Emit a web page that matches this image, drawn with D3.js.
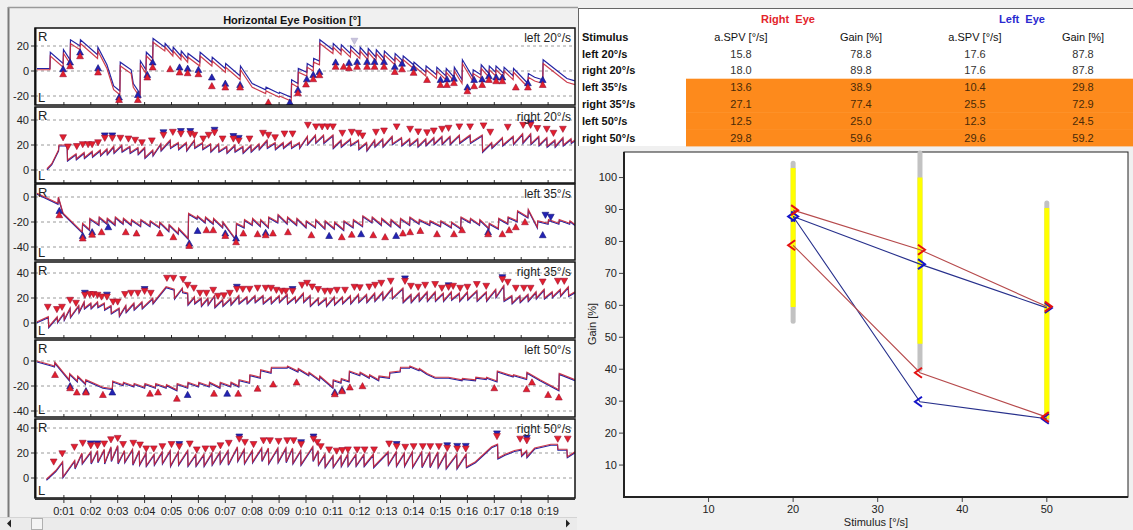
<!DOCTYPE html>
<html>
<head>
<meta charset="utf-8">
<script src="https://cdn.jsdelivr.net/npm/d3@7"></script>
<style>
body { margin: 0; background: #f0f0f0; overflow: hidden; }
svg text { font-family: "Liberation Sans", Arial, sans-serif; }
</style>
</head>
<body>
<script>
// ---------- data: OKN recording ----------
const panelNames = ['left 20°/s', 'right 20°/s', 'left 35°/s', 'right 35°/s', 'left 50°/s', 'right 50°/s']
const panelTicks = [[-20, 0, 20], [0, 20, 40], [-40, -20, 0], [0, 20, 40], [-40, -20, 0], [0, 20, 40]]
const panelMarkDir = ['up', 'down', 'up', 'down', 'up', 'down']
const timeTicks = [1, 2, 3, 4, 5, 6, 7, 8, 9, 10, 11, 12, 13, 14, 15, 16, 17, 18, 19]

// beats: [t, before quick phase, after quick phase] (panel 1 also has left eye columns)
const p1Trace = [[0,1,1,2,2],[0.48,1,12,2,15],[0.97,3,14,6,17],[1.23,6,22,9,25],[1.6,17,22,20,25],[2.25,10,16,13,19],
  [2.6,2,2,5,5],[2.85,-15,-15,-12,-12],[3.08,-19,4,-16,7],[3.5,-2,-2,1,1],[3.58,-13,-13,-10,-10],[3.83,-21,5,-18,8],
  [4.05,-2,12,1,15],[4.3,7,23,10,26],[4.75,16,19,19,22],[5.05,12,16,15,19],[5.35,9,13,12,16],[5.6,7,11,10,14],
  [6.05,4,12,7,15],[6.5,4,8,7,11],[7.0,-1,3,2,6],[7.55,-7,1,-4,4],[8.0,-13,-13,-10,-10],[8.5,-18,-16,-15,-13],
  [9.0,-21,-20,-18,-17],[9.45,-24,-10,-21,-7],[9.7,-13,-1,-10,2],[10.03,-4,3,-1,6],[10.27,0,7,3,10],[10.5,5,22,8,25],
  [11.0,14,19,17,22],[11.3,13,18,16,21],[11.65,11,17,14,20],[12.0,10,16,13,19],[12.3,9,15,12,18],[12.6,8,14,11,17],
  [12.9,7,13,10,16],[13.3,5,11,8,14],[13.6,5,9,8,12],[14.0,2,4,5,7],[14.45,-4,1,-1,4],[14.85,-6,0,-3,3],
  [15.2,-7,-1,-4,2],[15.5,-8,0,-5,3],[15.8,-10,6,-7,9],[16.2,-8,-2,-5,1],[16.5,-6,2,-3,5],[16.8,-5,1,-2,4],
  [17.05,-4,1,-1,4],[17.35,-5,0,-2,3],[17.7,-7,-1,-4,2],[18.25,-13,-5,-10,-2],[18.5,-8,-8,-5,-5],[18.8,-10,6,-7,9],
  [19.7,-9,-9,-6,-6],[20,-11,-11,-8,-8]]
const p2Trace = [[0.37,1,1],[0.55,5,5],[0.8,16,20],[1.12,20,8],[1.45,13,9],[1.75,14,10],[2.05,15,11],[2.35,16,12],
  [2.6,17,13],[2.85,19,14],[3.15,20,15],[3.45,19,14],[3.75,18,13],[4.0,18,10],[4.3,16,12],[4.6,21,16],[4.95,24,18],
  [5.25,22,17],[5.55,22,16],[5.85,24,18],[6.15,22,17],[6.45,21,15],[6.75,21,15],[7.05,19,14],[7.35,20,15],[7.65,19,14],
  [7.95,20,15],[8.25,21,17],[8.55,24,18],[8.85,22,17],[9.15,22,18],[9.45,23,18],[9.75,22,18],[10.05,27,21],[10.35,28,22],
  [10.65,28,22],[11.0,28,18],[11.3,24,19],[11.65,25,20],[11.95,24,17],[12.25,22,16],[12.55,24,19],[12.85,25,19],
  [13.2,27,21],[13.55,26,20],[13.85,25,20],[14.15,25,19],[14.45,25,20],[14.75,26,21],[15.05,27,21],[15.35,27,21],
  [15.7,28,22],[16.1,28,22],[16.55,28,15],[16.9,22,18],[17.3,26,20],[17.7,27,21],[18.05,29,22],[18.35,29,21],
  [18.65,27,20],[18.95,26,19],[19.25,24,19],[19.55,26,20],[19.85,25,22],[20,24,24]]
const p3Trace = [[0,3,3],[0.78,-5,0],[0.97,-13,-13],[1.68,-28,-21],[1.95,-26,-17],[2.3,-22,-16],[2.6,-21,-17],
  [2.9,-22,-16],[3.2,-21,-17],[3.5,-22,-18],[3.85,-23,-18],[4.2,-23,-19],[4.55,-24,-20],[4.9,-27,-22],[5.25,-29,-25],
  [5.62,-33,-13],[5.95,-17,-15],[6.25,-20,-16],[6.55,-21,-17],[6.9,-24,-20],[7.4,-34,-21],[7.7,-24,-18],[8.0,-22,-17],
  [8.3,-23,-18],[8.6,-24,-16],[8.95,-20,-14],[9.3,-21,-16],[9.65,-22,-17],[10.0,-24,-19],[10.35,-24,-18],[10.7,-25,-19],
  [11.05,-25,-20],[11.4,-26,-19],[11.75,-24,-18],[12.1,-23,-15],[12.45,-20,-16],[12.8,-22,-17],[13.15,-23,-18],
  [13.5,-24,-17],[13.85,-22,-16],[14.2,-21,-18],[14.6,-22,-19],[15.0,-23,-19],[15.4,-24,-20],[15.75,-25,-16],
  [16.1,-20,-17],[16.45,-22,-18],[16.8,-25,-21],[17.15,-25,-17],[17.5,-21,-16],[17.85,-19,-11],[18.25,-16,-10],
  [18.6,-24,-19],[19.0,-21,-18],[19.4,-21,-18],[19.8,-21,-19],[20,-22,-22]]
const p4Trace = [[0,1,1],[0.42,5,-3],[0.75,5,1],[1.0,8,3],[1.23,12,5],[1.55,14,9],[1.75,17,12],[2.0,16,12],[2.25,17,13],
  [2.5,16,11],[2.75,14,8],[3.05,12,6],[3.3,14,9],[3.6,16,11],[3.9,17,12],[4.3,20,16],[4.8,29,29],[5.1,27,20],[5.4,28,25],
  [5.6,24,15],[5.85,21,16],[6.1,20,14],[6.35,20,15],[6.6,22,13],[6.9,19,14],[7.2,20,15],[7.5,22,16],[7.8,21,16],
  [8.1,22,17],[8.4,22,16],[8.7,21,16],[9.0,22,17],[9.3,23,16],[9.6,21,17],[9.9,24,17],[10.15,22,14],[10.45,20,15],
  [10.75,20,14],[11.05,21,15],[11.35,21,16],[11.65,22,16],[11.95,23,17],[12.25,23,17],[12.55,24,18],[12.85,25,19],
  [13.2,28,20],[13.6,28,17],[13.9,23,17],[14.2,24,18],[14.5,25,18],[14.8,25,18],[15.1,24,18],[15.4,25,19],[15.7,24,18],
  [16.0,25,19],[16.35,26,18],[16.7,25,18],[17.05,27,21],[17.35,30,18],[17.65,22,16],[17.95,22,17],[18.25,23,18],
  [18.55,25,20],[18.85,27,20],[19.15,25,21],[19.45,27,22],[19.75,29,22],[20,25,25]]
const p5Trace = [[0,0,0],[0.5,-3,-3],[0.65,-4,-1],[1.2,-15,-10],[1.5,-16,-12],[1.8,-18,-15],[2.45,-21,-21],[2.8,-22,-16],
  [3.2,-19,-17],[3.6,-20,-18],[4.0,-21,-18],[4.4,-21,-18],[4.8,-21,-19],[5.2,-23,-18],[5.6,-21,-17],[6.0,-20,-17],
  [6.4,-20,-17],[6.8,-21,-17],[7.2,-20,-17],[7.5,-20,-15],[7.9,-17,-11],[8.3,-13,-7],[8.7,-9,-5],[9.3,-5,-4],[9.7,-8,-6],
  [10.1,-11,-9],[10.5,-15,-12],[11.0,-21,-15],[11.3,-17,-14],[11.6,-16,-8],[12.0,-11,-9],[12.35,-13,-11],[12.7,-15,-12],
  [13.1,-13,-9],[13.5,-8,-5],[13.85,-5,-4],[14.2,-7,-6],[14.5,-10,-10],[14.8,-13,-13],[15.3,-13,-13],[15.8,-15,-14],
  [16.3,-15,-13],[16.7,-14,-13],[17.1,-16,-8],[17.7,-12,-11],[18.2,-14,-9],[18.7,-15,-15],[19.4,-23,-10],[20,-15,-15]]
const p6Trace = [[0.35,-1,-1],[0.7,6,6],[0.95,13,1],[1.4,14,8],[1.67,20,12],[2.0,21,12],[2.25,22,13],[2.5,23,12],
  [2.75,25,14],[3.0,26,12],[3.25,22,13],[3.55,23,11],[3.8,22,11],[4.05,20,10],[4.35,19,11],[4.65,21,12],[4.95,22,10],
  [5.25,21,11],[5.6,22,10],[5.9,19,10],[6.2,19,10],[6.5,20,11],[6.8,21,12],[7.1,22,11],[7.45,25,14],[7.7,23,12],
  [8.0,22,13],[8.35,24,14],[8.6,24,12],[8.95,24,13],[9.25,24,13],[9.5,24,12],[9.8,22,11],[10.25,25,14],[10.45,22,11],
  [10.7,19,9],[11.0,18,9],[11.3,18,10],[11.55,19,10],[11.85,19,10],[12.15,19,10],[12.5,19,9],[13.05,21,11],[13.35,21,10],
  [13.65,20,10],[13.95,21,9],[14.3,21,9],[14.6,21,9],[14.9,21,9],[15.2,20,8],[15.6,19,8],[15.95,19,9],[16.3,13,13],
  [16.6,19,19],[16.9,25,25],[17.12,27,16],[17.4,19,19],[17.75,22,22],[18.0,23,18],[18.2,22,17],[18.5,24,24],
  [19.1,27,27],[19.35,27,23],[19.7,23,17],[20,21,21]]

// detected quick phases: [t, position, eye (R right / L left / G rejected), optional direction]
const p1Marks = [[0.97,1.6,'L'],[1.23,7,'L'],[1.6,15,'L'],[2.27,2.4,'L'],[3.05,-21,'L'],[3.75,-19,'L'],[4.1,-3,'L'],[4.3,7,'L'],
  [5.3,3,'L'],[5.6,2,'L'],[6.0,1,'L'],[6.5,-5,'L'],[7.0,-10,'L'],[7.55,-11,'L'],[9.4,-25,'L'],[9.7,-15,'L'],[10.03,-6.5,'L'],
  [10.27,-3,'L'],[10.5,-0.6,'L'],[11.1,7,'L'],[11.6,6.6,'L'],[11.9,7.4,'L'],[12.27,7.4,'L'],[12.55,7.4,'L'],[12.9,7.4,'L'],
  [13.3,3.5,'L'],[13.57,6,'L'],[14.0,2.4,'L'],[15.0,-7,'L'],[15.24,-6.6,'L'],[15.5,-6,'L'],[16.0,-13,'L'],[16.25,-7,'L'],
  [16.55,-6.6,'L'],[16.8,-4,'L'],[17.07,-5,'L'],[17.3,-5,'L'],[18.25,-9.6,'L'],[18.8,-7,'L'],
  [0.97,-2.4,'R'],[1.23,4,'R'],[1.6,12,'R'],[2.27,-1,'R'],[3.05,-23,'R'],[3.75,-23,'R'],[4.1,-5,'R'],[4.3,3,'R'],[4.95,1.6,'R'],
  [5.3,-1,'R'],[5.6,-1.6,'R'],[6.0,-2.4,'R'],[6.5,-12,'R'],[7.0,-13,'R'],[7.55,-13,'R'],[8.6,-25,'R'],[9.7,-17.6,'R'],
  [10.0,-10.6,'R'],[10.27,-6.4,'R'],[10.5,-3.2,'R'],[11.1,3.5,'R'],[11.4,3.5,'R'],[11.6,2.4,'R'],[11.9,3.5,'R'],[12.27,3.5,'R'],
  [12.55,3.5,'R'],[12.9,3.5,'R'],[13.3,-0.6,'R'],[13.57,1.5,'R'],[14.0,-1.3,'R'],[14.5,-7,'R'],[15.0,-11,'R'],[15.24,-11,'R'],
  [15.5,-9.5,'R'],[16.0,-16,'R'],[16.25,-12,'R'],[16.55,-11,'R'],[16.8,-7,'R'],[17.07,-8,'R'],[17.3,-8,'R'],[17.8,-13,'R'],
  [18.25,-13,'R'],[18.8,-11,'R'],[11.8,24,'G','down']]
const p2Marks = [[2.52,27.5,'L'],[2.8,27.5,'L'],[4.7,30,'L'],[5.35,31,'L'],[5.7,31,'L'],[6.6,32,'L'],[7.3,27,'L'],[7.5,25.5,'L'],
  [18.35,37.5,'L'],
  [0.97,26,'R'],[1.15,18.6,'R'],[1.48,19,'R'],[1.7,20.5,'R'],[1.9,20.5,'R'],[2.05,20.5,'R'],[2.27,22,'R'],[2.52,25.6,'R'],
  [2.8,25.6,'R'],[3.1,25.6,'R'],[3.4,25,'R'],[3.65,24,'R'],[3.9,22,'R'],[4.27,23.5,'R'],[4.7,28,'R'],[5.05,30.4,'R'],
  [5.35,29,'R'],[5.7,29,'R'],[5.85,28,'R'],[6.18,25,'R'],[6.38,28,'R'],[6.6,30,'R'],[6.9,25,'R'],[7.3,25,'R'],[7.5,23.5,'R'],
  [7.9,25,'R'],[8.4,29.6,'R'],[8.6,28,'R'],[8.85,26,'R'],[9.2,29,'R'],[9.5,29,'R'],[10.07,36,'R'],[10.37,34.7,'R'],
  [10.6,34.7,'R'],[10.8,34.7,'R'],[11.0,34.7,'R'],[11.35,29.6,'R'],[11.7,30.4,'R'],[11.95,29.6,'R'],[12.1,27.5,'R'],
  [12.6,30.4,'R'],[12.9,31.4,'R'],[13.37,34.7,'R'],[13.87,32.8,'R'],[14.17,30.7,'R'],[14.5,30,'R'],[14.75,31.4,'R'],
  [15.06,32.8,'R'],[15.3,33.6,'R'],[15.7,34.7,'R'],[16.1,34.7,'R'],[16.6,35.5,'R'],[16.85,30.4,'R'],[17.5,34.4,'R'],
  [18.07,36,'R'],[18.35,36,'R'],[18.6,33.4,'R'],[18.95,32.8,'R'],[19.2,29.6,'R'],[19.55,32.8,'R']]
const p3Marks = [[0.83,-11,'L'],[1.7,-31,'L'],[2.05,-28,'L'],[2.65,-24,'L'],[5.66,-37,'L'],[5.97,-27,'L'],[7.0,-29,'L'],
  [7.4,-33,'L'],[8.5,-28.5,'L'],[10.86,-31,'L'],[12.05,-29.6,'L'],[13.35,-31,'L'],[16.77,-28,'L'],[18.8,-30.4,'L'],
  [18.9,-14.4,'L','down'],[19.1,-16,'L','down'],
  [0.83,-14.4,'R'],[1.7,-33,'R'],[2.05,-30,'R'],[2.4,-28,'R'],[3.3,-28,'R'],[3.7,-29,'R'],[4.57,-29,'R'],[5.07,-32,'R'],
  [5.66,-39,'R'],[6.3,-26.4,'R'],[6.55,-26.4,'R'],[7.0,-31,'R'],[7.4,-36,'R'],[7.67,-29,'R'],[8.2,-29.6,'R'],[8.5,-30.4,'R'],
  [8.77,-29,'R'],[9.33,-28,'R'],[10.2,-30.4,'R'],[11.33,-32,'R'],[11.7,-30,'R'],[12.5,-30.4,'R'],[12.94,-32,'R'],
  [13.6,-29,'R'],[13.87,-28,'R'],[14.25,-27,'R'],[14.87,-29.6,'R'],[15.5,-29.6,'R'],[15.8,-26.4,'R'],[16.77,-29.6,'R'],
  [17.3,-29.6,'R'],[17.55,-26.4,'R'],[17.8,-24,'R'],[18.14,-20,'R']]
const p4Marks = [[1.78,24,'L'],[2.6,22.5,'L'],[4.0,27,'L'],[7.43,28.8,'L'],[9.5,27,'L'],[13.68,35.5,'L'],[15.3,30,'L'],[17.3,36.5,'L'],
  [0.4,12.8,'R'],[0.74,11,'R'],[0.93,12.8,'R'],[1.23,18.4,'R'],[1.45,16,'R'],[1.78,22.4,'R'],[1.96,23,'R'],[2.1,23,'R'],
  [2.25,22.4,'R'],[2.4,21,'R'],[2.6,21,'R'],[2.83,17,'R'],[3.0,17,'R'],[3.27,23,'R'],[3.5,24,'R'],[3.75,24,'R'],[4.0,25.6,'R'],
  [4.23,24,'R'],[4.83,36,'R'],[5.07,36,'R'],[5.43,35,'R'],[5.6,30.4,'R'],[5.83,28,'R'],[6.06,24,'R'],[6.3,24,'R'],
  [6.55,26.4,'R'],[6.73,21.6,'R'],[6.95,22,'R'],[7.17,24,'R'],[7.43,27.2,'R'],[7.65,27.2,'R'],[7.9,27.2,'R'],[8.2,28,'R'],
  [8.5,28,'R'],[8.7,28,'R'],[8.9,26.4,'R'],[9.1,25.6,'R'],[9.25,25.6,'R'],[9.5,25.6,'R'],[9.85,30.4,'R'],[10.04,32,'R'],
  [10.23,29,'R'],[10.45,27,'R'],[10.7,25.6,'R'],[10.9,25.6,'R'],[11.15,26.4,'R'],[11.45,26.4,'R'],[11.8,28.8,'R'],
  [12.0,28.4,'R'],[12.35,29,'R'],[12.57,30.4,'R'],[12.8,32,'R'],[13.15,33.6,'R'],[13.68,33.6,'R'],[13.9,29.6,'R'],
  [14.17,28.8,'R'],[14.43,30.4,'R'],[14.8,31,'R'],[15.05,28,'R'],[15.3,28.8,'R'],[15.47,29.6,'R'],[15.73,28,'R'],
  [16.0,28.8,'R'],[16.35,31,'R'],[16.7,29.6,'R'],[17.3,35,'R'],[17.5,32.8,'R'],[17.8,28,'R'],[18.1,28,'R'],[18.35,28,'R'],
  [18.8,33,'R'],[19.36,33.6,'R'],[19.6,33.6,'R']]
const p5Marks = [[1.23,-20,'L'],[1.82,-24,'L'],[2.8,-25,'L'],[5.6,-27,'L'],[7.07,-26,'L'],[11.07,-25,'L'],[11.34,-23,'L'],
  [0.67,-11,'R'],[1.23,-21.6,'R'],[1.48,-25,'R'],[1.82,-25,'R'],[2.45,-27,'R'],[4.2,-26,'R'],[4.5,-25,'R'],[5.2,-30,'R'],
  [6.58,-26,'R'],[7.48,-26,'R'],[8.2,-22,'R'],[8.78,-18.6,'R'],[9.65,-17,'R'],[11.07,-26.4,'R'],[11.34,-24,'R'],
  [11.63,-21,'R'],[12.1,-20,'R'],[17.0,-21.6,'R'],[18.2,-22.4,'R'],[18.4,-17,'R'],[19.0,-27,'R'],[19.4,-29,'R']]
const p6Marks = [[2.0,27.5,'L'],[2.25,27.5,'L'],[5.29,27,'L'],[7.52,33,'L'],[9.82,28.5,'L'],[10.28,33,'L'],[13.37,27,'L'],
  [15.25,26,'L'],[15.62,25.5,'L'],[15.94,25.5,'L'],[17.1,35.5,'L'],[18.21,32,'L'],
  [0.62,13,'R'],[0.94,19.6,'R'],[1.39,24.8,'R'],[1.7,28,'R'],[2.0,26,'R'],[2.25,26,'R'],[2.5,27.4,'R'],[2.75,30.8,'R'],
  [3.0,31.9,'R'],[3.2,27,'R'],[3.58,28,'R'],[3.83,26.6,'R'],[4.06,23.5,'R'],[4.34,23.5,'R'],[4.66,25.3,'R'],[5.0,27,'R'],
  [5.29,25.3,'R'],[5.68,27.4,'R'],[5.94,22.7,'R'],[6.26,23.5,'R'],[6.54,23.5,'R'],[6.82,26,'R'],[7.13,28,'R'],[7.52,31.3,'R'],
  [7.73,28.7,'R'],[8.05,27,'R'],[8.42,30,'R'],[8.66,30,'R'],[8.98,29.5,'R'],[9.3,30,'R'],[9.54,30,'R'],[9.82,27,'R'],
  [10.28,31.3,'R'],[10.42,28.7,'R'],[10.55,25.3,'R'],[10.86,22.7,'R'],[11.14,21.7,'R'],[11.35,22.2,'R'],[11.56,22.7,'R'],
  [11.9,22.7,'R'],[12.18,22.7,'R'],[12.53,22.7,'R'],[13.09,27.4,'R'],[13.37,25.3,'R'],[13.69,24.8,'R'],[14.0,25.3,'R'],
  [14.34,25.3,'R'],[14.62,25.3,'R'],[14.94,25.3,'R'],[15.25,24,'R'],[15.62,23.5,'R'],[15.94,23.5,'R'],[17.1,33.4,'R'],
  [17.96,31.3,'R'],[18.21,30,'R'],[19.36,31.3,'R'],[19.73,31.3,'R']]

const traces = [p1Trace, p2Trace, p3Trace, p4Trace, p5Trace, p6Trace]
const marks = [p1Marks, p2Marks, p3Marks, p4Marks, p5Marks, p6Marks]

// ---------- data: results table / gain plot ----------
const stimuli = ['left 20°/s', 'right 20°/s', 'left 35°/s', 'right 35°/s', 'left 50°/s', 'right 50°/s']
const stimSpeed = [20, 20, 35, 35, 50, 50]
const stimDir = ['left', 'right', 'left', 'right', 'left', 'right']
const rightSPV = [15.8, 18.0, 13.6, 27.1, 12.5, 29.8]
const rightGain = [78.8, 89.8, 38.9, 77.4, 25.0, 59.6]
const leftSPV = [17.6, 17.6, 10.4, 25.5, 12.3, 29.6]
const leftGain = [87.8, 87.8, 29.8, 72.9, 24.5, 59.2]
const flagged = [false, false, true, true, true, true]

const barSpeeds = [20, 35, 50]
const normalRange = [[55, 104.5], [40, 107.7], [24, 92]]
const innerRange = [[59.5, 103], [48, 100], [24.5, 90.5]]
const gainTicks = [10, 20, 30, 40, 50, 60, 70, 80, 90, 100]
const speedTicks = [10, 20, 30, 40, 50]

// ---------- page ----------
const W = 1133, H = 530
const svg = d3.select('body').append('svg').attr('width', W).attr('height', H)
svg.append('rect').attr('width', W).attr('height', H).attr('fill', '#f0f0f0')

// left window frame
svg.append('line').attr('x1', 8.5).attr('x2', 8.5).attr('y1', 7).attr('y2', 517)
  .attr('stroke', '#7a7a7a').attr('stroke-width', 2)
svg.append('line').attr('x1', 8).attr('x2', 578).attr('y1', 7.5).attr('y2', 7.5)
  .attr('stroke', '#9a9a9a').attr('stroke-width', 1.5)

svg.append('text').attr('x', 292).attr('y', 24).attr('text-anchor', 'middle')
  .style('font-size', '11px').style('font-weight', 'bold').attr('fill', '#111')
  .text('Horizontal Eye Position [°]')

const panelBox = [
  {top: 28, bottom: 105, lo: -27.2, hi: 34.4},
  {top: 107, bottom: 183, lo: -10.4, hi: 50.4},
  {top: 184, bottom: 260, lo: -50.4, hi: 10.4},
  {top: 262, bottom: 338, lo: -12, hi: 48.8},
  {top: 340, bottom: 417, lo: -44.8, hi: 16.8},
  {top: 419, bottom: 498, lo: -16, hi: 47.2}
]
const plotL = 35, plotR = 575
const x = d3.scaleLinear().domain([0, 20]).range([37, 575])

function verts(rows, c) {
  const pts = []
  rows.forEach(r => {
    pts.push([r[0], r[c]])
    if (r[c + 1] !== r[c]) pts.push([r[0] + 0.015, r[c + 1]])
  })
  return pts
}

function triPath(cx, cy, dir) {
  const s = 3.4
  return dir === 'up'
    ? `M${cx},${cy - s}L${cx + s},${cy + s * 0.8}L${cx - s},${cy + s * 0.8}Z`
    : `M${cx},${cy + s}L${cx + s},${cy - s * 0.8}L${cx - s},${cy - s * 0.8}Z`
}

const markFill = {R: '#e3202c', L: '#2323b4', G: '#c8c4dc'}
const markStroke = {R: '#9a1038', L: '#141478', G: '#b0aacc'}

panelBox.forEach((b, i) => {
  const g = svg.append('g')
  const y = d3.scaleLinear().domain([b.lo, b.hi]).range([b.bottom, b.top])

  g.append('clipPath').attr('id', 'clip' + i).append('rect')
    .attr('x', plotL).attr('y', b.top).attr('width', plotR - plotL).attr('height', b.bottom - b.top)
  g.append('rect').attr('x', plotL).attr('y', b.top).attr('width', plotR - plotL).attr('height', b.bottom - b.top)
    .attr('fill', '#fff')

  // dashed grid + y ticks
  panelTicks[i].forEach(v => {
    g.append('line').attr('x1', plotL).attr('x2', plotR).attr('y1', y(v)).attr('y2', y(v))
      .attr('stroke', '#9a9a9a').attr('stroke-dasharray', '3,3').attr('stroke-width', 1)
    g.append('line').attr('x1', plotL - 4).attr('x2', plotL).attr('y1', y(v)).attr('y2', y(v))
      .attr('stroke', '#333')
    g.append('text').attr('x', plotL - 6).attr('y', y(v)).attr('dy', '0.35em')
      .attr('text-anchor', 'end').style('font-size', '11px').attr('fill', '#222').text(v)
  })

  // time ticks along the bottom border
  timeTicks.forEach(t => {
    g.append('line').attr('x1', x(t)).attr('x2', x(t)).attr('y1', b.bottom - 3).attr('y2', b.bottom)
      .attr('stroke', '#333')
  })

  const plot = g.append('g').attr('clip-path', `url(#clip${i})`)
  const line = d3.line().x(d => x(d[0])).y(d => y(d[1]))
  const rows = traces[i]
  const twoEyes = rows[0].length > 3
  // left eye (blue) below, right eye (red) on top
  plot.append('path').attr('d', line(verts(rows, twoEyes ? 3 : 1)))
    .attr('transform', twoEyes ? null : 'translate(0,1)')
    .attr('fill', 'none').attr('stroke', '#2424a4').attr('stroke-width', 1.2)
  plot.append('path').attr('d', line(verts(rows, 1)))
    .attr('fill', 'none').attr('stroke', '#c8283a').attr('stroke-width', 1.2).attr('stroke-opacity', 0.9)

  // quick-phase markers: left eye first, right eye on top
  const ms = marks[i].slice().sort((a, c) => (a[2] === 'R') - (c[2] === 'R'))
  plot.selectAll('path.mk').data(ms).join('path').attr('class', 'mk')
    .attr('d', d => triPath(x(d[0]), y(d[1]), d[3] || panelMarkDir[i]))
    .attr('fill', d => markFill[d[2]]).attr('stroke', d => markStroke[d[2]]).attr('stroke-width', 0.6)

  // labels
  g.append('text').attr('x', 38).attr('y', b.top + 13).style('font-size', '13px').attr('fill', '#222').text('R')
  g.append('text').attr('x', 38).attr('y', b.bottom - 3).style('font-size', '13px').attr('fill', '#222').text('L')
  g.append('text').attr('x', 571).attr('y', b.top + 14).attr('text-anchor', 'end')
    .style('font-size', '12px').attr('fill', '#222').text(panelNames[i])

  g.append('rect').attr('x', plotL).attr('y', b.top).attr('width', plotR - plotL).attr('height', b.bottom - b.top)
    .attr('fill', 'none').attr('stroke', '#111').attr('stroke-width', 1.5)
  g.append('line').attr('x1', plotL + 0.5).attr('x2', plotL + 0.5).attr('y1', b.top).attr('y2', b.bottom)
    .attr('stroke', '#111').attr('stroke-width', 2)
})

// time axis under the last panel
const lastB = panelBox[5].bottom
svg.append('line').attr('x1', plotL).attr('x2', plotR).attr('y1', lastB + 1).attr('y2', lastB + 1)
  .attr('stroke', '#333').attr('stroke-width', 2)
timeTicks.forEach(t => {
  svg.append('line').attr('x1', x(t)).attr('x2', x(t)).attr('y1', lastB).attr('y2', lastB + 5).attr('stroke', '#333')
  svg.append('text').attr('x', x(t)).attr('y', lastB + 17).attr('text-anchor', 'middle')
    .style('font-size', '11px').attr('fill', '#222').text('0:' + d3.format('02d')(t))
})

// scroll bar
const sb = svg.append('g')
sb.append('rect').attr('x', 0).attr('y', 517).attr('width', 577).attr('height', 13).attr('fill', '#ebebeb')
sb.append('line').attr('x1', 0).attr('x2', 577).attr('y1', 517.5).attr('y2', 517.5).attr('stroke', '#d4d4d4')
sb.append('path').attr('d', 'M7,523.5L11,519.5L11,527.5Z').attr('fill', '#222')
sb.append('rect').attr('x', 31.5).attr('y', 518.5).attr('width', 11).attr('height', 11)
  .attr('fill', '#f4f4f4').attr('stroke', '#b0b0b0')
sb.append('path').attr('d', 'M570,523.5L566,519.5L566,527.5Z').attr('fill', '#222')

// ---------- results table ----------
const tb = svg.append('g')
tb.append('rect').attr('x', 578).attr('y', 8).attr('width', 555).attr('height', 138).attr('fill', '#fff')
tb.append('line').attr('x1', 578.5).attr('x2', 578.5).attr('y1', 8).attr('y2', 146).attr('stroke', '#666')
tb.append('line').attr('x1', 578).attr('x2', 1133).attr('y1', 8.5).attr('y2', 8.5).attr('stroke', '#666')
const colX = [741, 861, 975, 1083]
const rowY = i => 53.5 + i * 16.8
const rowH = 16.8
stimuli.forEach((s, i) => {
  if (flagged[i]) {
    tb.append('rect').attr('x', 686).attr('y', rowY(i) - rowH / 2).attr('width', 447).attr('height', rowH + 0.5)
      .attr('fill', '#fd8a1c')
  }
})
tb.append('text').attr('x', 788).attr('y', 23).attr('text-anchor', 'middle').style('font-size', '11px')
  .style('font-weight', 'bold').attr('fill', '#e3242b').attr('xml:space', 'preserve').text('Right  Eye')
tb.append('text').attr('x', 1022).attr('y', 23).attr('text-anchor', 'middle').style('font-size', '11px')
  .style('font-weight', 'bold').attr('fill', '#2a2ad0').attr('xml:space', 'preserve').text('Left  Eye')
tb.append('text').attr('x', 582).attr('y', 41).style('font-size', '11px').style('font-weight', 'bold')
  .attr('fill', '#111').text('Stimulus')
;['a.SPV [°/s]', 'Gain [%]', 'a.SPV [°/s]', 'Gain [%]'].forEach((h, j) => {
  tb.append('text').attr('x', colX[j]).attr('y', 41).attr('text-anchor', 'middle').style('font-size', '11px')
    .attr('fill', '#111').text(h)
})
const fmt = d3.format('.1f')
stimuli.forEach((s, i) => {
  const yy = rowY(i) + 4
  tb.append('text').attr('x', 582).attr('y', yy).style('font-size', '11px').style('font-weight', 'bold')
    .attr('fill', '#111').text(s)
  ;[rightSPV[i], rightGain[i], leftSPV[i], leftGain[i]].forEach((v, j) => {
    tb.append('text').attr('x', colX[j]).attr('y', yy).attr('text-anchor', 'middle').style('font-size', '11px')
      .attr('fill', flagged[i] ? '#4a2a08' : '#333').text(fmt(v))
  })
})

// ---------- gain plot ----------
const gx = d3.scaleLinear().domain([0, 59.6]).range([624, 1128])
const gy = d3.scaleLinear().domain([0, 108]).range([497, 152])
const gp = svg.append('g')
gp.append('rect').attr('x', 624).attr('y', 152).attr('width', 504).attr('height', 345)
  .attr('fill', '#fff').attr('stroke', '#222').attr('stroke-width', 1)
gp.append('line').attr('x1', 624).attr('x2', 624).attr('y1', 152).attr('y2', 497.5)
  .attr('stroke', '#222').attr('stroke-width', 2)
gp.append('line').attr('x1', 623).attr('x2', 1128).attr('y1', 497).attr('y2', 497)
  .attr('stroke', '#222').attr('stroke-width', 2)

gainTicks.forEach(v => {
  gp.append('line').attr('x1', 619).attr('x2', 623).attr('y1', gy(v)).attr('y2', gy(v)).attr('stroke', '#444')
  gp.append('text').attr('x', 617).attr('y', gy(v)).attr('dy', '0.35em').attr('text-anchor', 'end')
    .style('font-size', '11px').attr('fill', '#222').text(v)
})
speedTicks.forEach(v => {
  gp.append('line').attr('x1', gx(v)).attr('x2', gx(v)).attr('y1', 498).attr('y2', 502).attr('stroke', '#444')
  gp.append('text').attr('x', gx(v)).attr('y', 513).attr('text-anchor', 'middle')
    .style('font-size', '11px').attr('fill', '#222').text(v)
})
gp.append('text').attr('transform', 'translate(596,324) rotate(-90)').attr('text-anchor', 'middle')
  .style('font-size', '11px').attr('fill', '#222').text('Gain [%]')
gp.append('text').attr('x', 876).attr('y', 526).attr('text-anchor', 'middle')
  .style('font-size', '11px').attr('fill', '#222').text('Stimulus [°/s]')

// normal ranges
barSpeeds.forEach((s, i) => {
  gp.append('line').attr('x1', gx(s)).attr('x2', gx(s))
    .attr('y1', gy(normalRange[i][0])).attr('y2', gy(normalRange[i][1]))
    .attr('stroke', '#c2c2c2').attr('stroke-width', 5).attr('stroke-linecap', 'round')
  gp.append('line').attr('x1', gx(s)).attr('x2', gx(s))
    .attr('y1', gy(innerRange[i][0])).attr('y2', gy(innerRange[i][1]))
    .attr('stroke', '#ffff00').attr('stroke-width', 5)
})

const gainSeries = [
  {gains: leftGain, line: '#27308c', mark: '#1414c8'},
  {gains: rightGain, line: '#b64a4c', mark: '#e41212'}
]
const gline = d3.line().x(d => gx(d[0])).y(d => gy(d[1]))
gainSeries.forEach(s => {
  ;['right', 'left'].forEach(dir => {
    const pts = stimSpeed.map((v, i) => [v, s.gains[i], stimDir[i]]).filter(d => d[2] === dir)
    gp.append('path').attr('d', gline(pts)).attr('fill', 'none').attr('stroke', s.line).attr('stroke-width', 1.1)
  })
})
gainSeries.forEach(s => {
  stimSpeed.forEach((v, i) => {
    const cx = gx(v), cy = gy(s.gains[i])
    const d = stimDir[i] === 'right'
      ? `M${cx - 2},${cy - 5}L${cx + 5},${cy}L${cx - 2},${cy + 5}`
      : `M${cx + 2},${cy - 5}L${cx - 5},${cy}L${cx + 2},${cy + 5}`
    gp.append('path').attr('d', d).attr('fill', 'none').attr('stroke', s.mark).attr('stroke-width', 2)
  })
})
</script>
</body>
</html>
